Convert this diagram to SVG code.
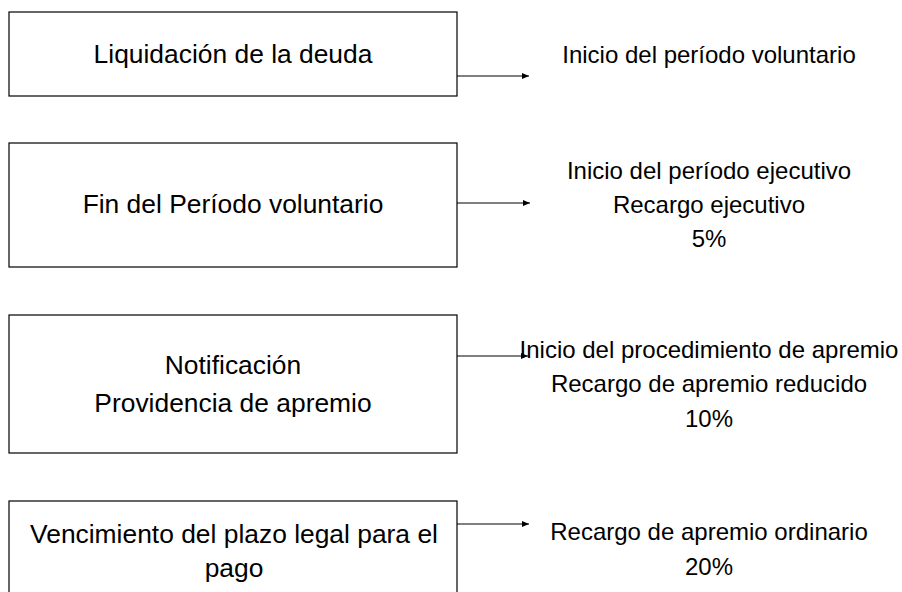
<svg xmlns="http://www.w3.org/2000/svg" width="902" height="592" viewBox="0 0 902 592">
<style>
.box{fill:#fff;stroke:#000;stroke-width:1.2}
.lt{font-family:"Liberation Sans",Arial,sans-serif;font-size:26.4px;fill:#000;text-anchor:middle}
.rt{font-family:"Liberation Sans",Arial,sans-serif;font-size:24px;fill:#000;text-anchor:middle}
.con{stroke:#000;stroke-width:1;fill:none;marker-end:url(#ah)}
</style>
<defs>
<marker id="ah" markerWidth="8" markerHeight="6" refX="7" refY="3" orient="auto" markerUnits="userSpaceOnUse">
<path d="M0,0 L7,3 L0,6 Z" fill="#000"/>
</marker>
</defs>
<rect width="902" height="592" fill="#fff"/>
<g id="n1"><rect class="box" x="9" y="12" width="448" height="84"/><text class="lt" x="233" y="63">Liquidación de la deuda</text></g>
<g id="n2"><rect class="box" x="9" y="143" width="448" height="124"/><text class="lt" x="233" y="213">Fin del Período voluntario</text></g>
<g id="n3"><rect class="box" x="9" y="315" width="448" height="138"/><text class="lt" x="233" y="374">Notificación</text><text class="lt" x="233" y="412">Providencia de apremio</text></g>
<g id="n4"><rect class="box" x="9" y="501" width="448" height="100"/><text class="lt" x="234" y="543">Vencimiento del plazo legal para el</text><text class="lt" x="234" y="577">pago</text></g>
<g id="r1"><text class="rt" x="709" y="63">Inicio del período voluntario</text></g>
<g id="r2"><text class="rt" x="709" y="179">Inicio del período ejecutivo</text><text class="rt" x="709" y="213">Recargo ejecutivo</text><text class="rt" x="709" y="247">5%</text></g>
<g id="r3"><text class="rt" x="709" y="358">Inicio del procedimiento de apremio</text><text class="rt" x="709" y="392">Recargo de apremio reducido</text><text class="rt" x="709" y="427">10%</text></g>
<g id="r4"><text class="rt" x="709" y="540">Recargo de apremio ordinario</text><text class="rt" x="709" y="575">20%</text></g>
<g id="connectors">
<line class="con" x1="457" y1="76" x2="529" y2="76"/>
<line class="con" x1="457" y1="203" x2="530" y2="203"/>
<line class="con" x1="457" y1="356" x2="528" y2="356"/>
<line class="con" x1="457" y1="524" x2="529" y2="524"/>
</g>
</svg>
